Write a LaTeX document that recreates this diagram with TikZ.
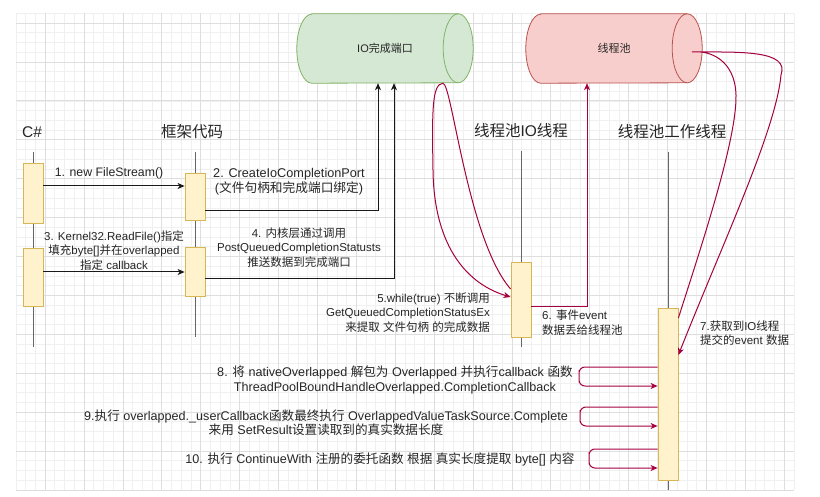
\documentclass[tikz,border=0pt]{standalone}
\usepackage{fontspec}
\setmainfont{Liberation Sans}
\newfontfamily\cjkfont{Noto Sans CJK SC}
\newfontfamily\latinfont{Liberation Sans}
\XeTeXinterchartokenstate=1
\newXeTeXintercharclass\cjkclass
\count255="4E00
\loop\XeTeXcharclass\count255=\cjkclass
\ifnum\count255<"9FFF\advance\count255 by 1\repeat
\XeTeXinterchartoks 0 \cjkclass={\cjkfont}
\XeTeXinterchartoks 4095 \cjkclass={\cjkfont}
\XeTeXinterchartoks \cjkclass 0={\latinfont}
\XeTeXinterchartoks \cjkclass 4095={\latinfont}
\usetikzlibrary{arrows.meta,backgrounds}
\definecolor{actfill}{HTML}{FFF2CC}
\definecolor{actline}{HTML}{D6B656}
\definecolor{iofill}{HTML}{D5E8D4}
\definecolor{ioline}{HTML}{82B366}
\definecolor{poolfill}{HTML}{F8CECC}
\definecolor{poolline}{HTML}{B85450}
\definecolor{flow}{HTML}{A50040}
\tikzset{
  gridminor/.style={draw=black!6, line width=0.5pt},
  gridmajor/.style={draw=black!13, line width=0.6pt},
  act/.style={draw=actline, fill=actfill, minimum width=20pt, inner sep=0pt, line width=0.8pt},
  life/.style={draw=black!60, line width=1pt},
  head/.style={font=\fontsize{15.5}{18}\selectfont, text=black!85, inner sep=0pt},
  lbl/.style={font=\fontsize{11.5}{14.5}\selectfont, text=black!85, inner sep=0pt, align=center},
  wide/.style={font=\fontsize{12.6}{14.2}\selectfont},
  msg/.style={draw=black!90, line width=1pt, -{Stealth[length=7pt,width=6pt,inset=2pt]}},
  back/.style={draw=flow, line width=1pt, -{Stealth[length=7pt,width=6pt,inset=2pt]}},
  tank/.style={minimum width=176pt, minimum height=69pt, inner sep=0pt, text=black!85, font=\fontsize{11}{13}\selectfont},
}
\begin{document}
\begin{tikzpicture}[x=1pt, y=-1pt]
\useasboundingbox (0,0) rectangle (820,497);
\begin{scope}[on background layer]
\fill[white] (0,0) rectangle (820,497);
% grid
\foreach \k in {1,...,81} \draw[gridminor] ({6.1+9.725*\k},13.3) -- ({6.1+9.725*\k},489.8);
\foreach \k in {1,...,49} \draw[gridminor] (15.8,{3.55+9.725*\k}) -- (793.8,{3.55+9.725*\k});
\foreach \k in {1,...,20} \draw[gridmajor] ({6.1+38.9*\k},13.3) -- ({6.1+38.9*\k},489.8);
\foreach \k in {0,...,12} \draw[gridmajor] (15.8,{23+38.9*\k}) -- (793.8,{23+38.9*\k});
\end{scope}

% tanks
\node[tank] (io) at (385,48.5) {IO完成端口};
\node[tank] (pool) at (614,48.5) {线程池};
\begin{scope}[on background layer]
\foreach \n/\f/\l in {io/iofill/ioline, pool/poolfill/poolline} {
  \draw[draw=\l, fill=\f, line width=0.8pt] ([xshift=15pt]\n.north west) -- ([xshift=-15pt]\n.north east)
    arc[start angle=90, end angle=-90, x radius=15pt, y radius=34.5pt]
    -- ([xshift=15pt]\n.south west)
    arc[start angle=270, end angle=90, x radius=15pt, y radius=34.5pt] -- cycle;
  \draw[draw=\l, line width=0.8pt] ([xshift=-15pt]\n.north east)
    arc[start angle=90, end angle=270, x radius=15pt, y radius=34.5pt];
}
\end{scope}

% lifelines
\node[head] (cs) at (32,132) {C\#};
\node[head] (fw) at (192,132) {框架代码};
\node[head] (iothr) at (521,131) {线程池IO线程};
\node[head] (work) at (672,132) {线程池工作线程};
\draw[life] (33,152) -- (33,347);
\draw[life] (195,152) -- (195,337);
\draw[life] (521,151) -- (521,347);
\draw[life] (668,152) -- (668,490);

\node[act, minimum height=60pt] (c1) at (33,193) {};
\node[act, minimum height=58pt] (c2) at (33,277) {};
\node[act, minimum height=47pt] (f1) at (195,196.5) {};
\node[act, minimum height=49pt] (f2) at (195,271.5) {};
\node[act, minimum height=75pt] (iob) at (521,299.5) {};
\node[act, minimum height=172pt] (wk) at (668,394) {};

% calls
\draw[msg] (c1.east |- 0,186) -- (f1.west |- 0,186);
\draw[msg] (c2.east |- 0,272) -- (f2.west |- 0,272);
\draw[msg] (f1.east |- 0,211) -| ([xshift=-7pt]io.south);
\draw[msg] (f2.east |- 0,279) -| ([xshift=9pt]io.south);
\draw[back] (iob.east |- 0,307) -| ([xshift=-27pt]pool.south);
\draw[back] (iob.west |- 0,289) .. controls (468,240) and (452,84) .. (io.south -| 443,0)
  .. controls (432,84) and (432,110) .. (433,170)
  .. controls (434,250) and (470,285) .. (iob.west |- 0,297);
\draw[back] (wk.east |- 0,318) .. controls (700,250) and (737,140) .. (736,95)
  .. controls (735,60) and (710,50) .. (692,52)
  .. controls (740,52) and (790,50) .. (781,75)
  .. controls (776,130) and (722,245) .. (wk.east |- 0,355);
\draw[back, rounded corners=6pt] (wk.west |- 0,367) -| (579,376) |- (wk.west |- 0,386);
\draw[back, rounded corners=6pt] (wk.west |- 0,407) -| (580,416) |- (wk.west |- 0,426);
\draw[back, rounded corners=6pt] (wk.west |- 0,449) -| (589,458) |- (wk.west |- 0,468);

% labels
\node[lbl, font=\fontsize{12.3}{14.5}\selectfont] (l1) at (109,173) {1. new FileStream()};
\node[lbl, font=\fontsize{12.7}{15}\selectfont] (l2) at (289,181.5) {2. CreateIoCompletionPort\\(文件句柄和完成端口绑定)};
\node[lbl] (l3) at (114,250.5) {3. Kernel32.ReadFile()指定\\填充byte[]并在overlapped\\指定 callback};
\node[lbl] (l4) at (299,247.5) {4. 内核层通过调用\\PostQueuedCompletionStatusts\\推送数据到完成端口};
\node[lbl, align=right, anchor=east] (l5) at (490,312.5) {5.while(true) 不断调用\\GetQueuedCompletionStatusEx\\来提取 文件句柄 的完成数据};
\node[lbl, align=left, anchor=west] (l6) at (542,322.5) {6. 事件event\\数据丢给线程池};
\node[lbl, align=left, anchor=west] (l7) at (700,333) {7.获取到IO线程\\提交的event 数据};
\node[lbl, wide] (l8) at (395,380) {8. 将 nativeOverlapped 解包为 Overlapped 并执行callback 函数\\ThreadPoolBoundHandleOverlapped.CompletionCallback};
\node[lbl, wide] (l9) at (326,423) {9.执行 overlapped.\_userCallback函数最终执行 OverlappedValueTaskSource.Complete\\来用 SetResult设置读取到的真实数据长度};
\node[lbl, wide] (l10) at (380,459) {10. 执行 ContinueWith 注册的委托函数 根据 真实长度提取 byte[] 内容};
\end{tikzpicture}
\end{document}
